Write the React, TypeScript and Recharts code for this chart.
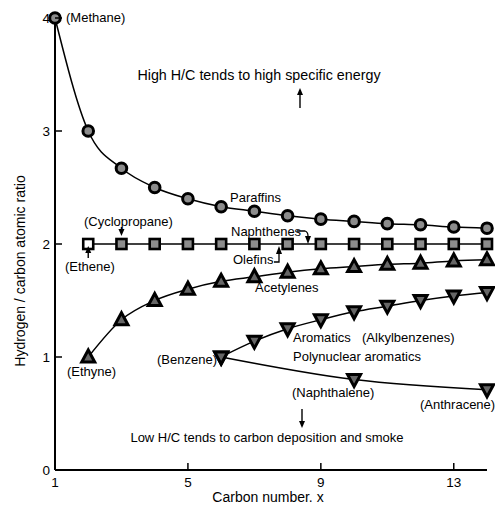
import React from 'react';
import { LineChart, Line, XAxis, YAxis } from 'recharts';

// carbon numbers and H/C ratios
const paraffinX = [1, 2, 3, 4, 5, 6, 7, 8, 9, 10, 11, 12, 13, 14];
const paraffinY = [4, 3, 2.67, 2.5, 2.4, 2.33, 2.29, 2.25, 2.22, 2.2, 2.18, 2.17, 2.15, 2.14];
const olefinX = [2, 3, 4, 5, 6, 7, 8, 9, 10, 11, 12, 13, 14];
const olefinY = [2, 2, 2, 2, 2, 2, 2, 2, 2, 2, 2, 2, 2];
const acetyleneX = [2, 3, 4, 5, 6, 7, 8, 9, 10, 11, 12, 13, 14];
const acetyleneY = [1, 1.33, 1.5, 1.6, 1.67, 1.71, 1.75, 1.78, 1.8, 1.82, 1.83, 1.85, 1.86];
const aromaticX = [6, 7, 8, 9, 10, 11, 12, 13, 14];
const aromaticY = [1, 1.14, 1.25, 1.33, 1.4, 1.45, 1.5, 1.54, 1.57];
const polyX = [6, 10, 14];
const polyY = [1, 0.8, 0.71];

const xTicks = [1, 5, 9, 13];
const yTicks = [0, 1, 2, 3, 4];

const zip = (xs: number[], ys: number[]) => xs.map((x, i) => ({ x, y: ys[i] }));

const W = 495;
const H = 506;
const FONT = '"Liberation Sans", Arial, sans-serif';
const GREY = '#8c8c8c';

const CircleDot = (p: any) => (
  <circle key={`c-${p.index}`} cx={p.cx} cy={p.cy} r={5.3} fill={GREY} stroke="#000" strokeWidth={3} />
);

const SquareDot = (p: any) => (
  <rect
    key={`s-${p.index}`}
    x={p.cx - 5}
    y={p.cy - 5}
    width={10}
    height={10}
    fill={p.index === 0 ? '#fff' : GREY}
    stroke="#000"
    strokeWidth={2.6}
  />
);

const TriUp = (p: any) => {
  const { cx, cy } = p;
  return (
    <polygon
      key={`t-${p.index}`}
      points={`${cx},${cy - 7} ${cx - 6.5},${cy + 5} ${cx + 6.5},${cy + 5}`}
      fill="#666"
      stroke="#000"
      strokeWidth={3}
    />
  );
};

const TriDown = (p: any) => {
  const { cx, cy } = p;
  return (
    <polygon
      key={`d-${p.index}`}
      points={`${cx},${cy + 7} ${cx - 6.5},${cy - 5} ${cx + 6.5},${cy - 5}`}
      fill="#666"
      stroke="#000"
      strokeWidth={3}
    />
  );
};

const XTick = (p: any) => {
  const v = p.payload.value;
  return (
    <g>
      {v !== 1 && <line x1={p.x} x2={p.x} y1={470} y2={463} stroke="#000" strokeWidth={1.5} />}
      <text x={p.x} y={487} textAnchor="middle" fontSize={13.5} fontFamily={FONT} fill="#000">
        {v}
      </text>
    </g>
  );
};

const YTick = (p: any) => {
  const v = p.payload.value;
  return (
    <g>
      {v !== 0 && <line x1={55} x2={62} y1={p.y} y2={p.y} stroke="#000" strokeWidth={1.5} />}
      <text x={50} y={p.y + 5} textAnchor="end" fontSize={13.5} fontFamily={FONT} fill="#000">
        {v}
      </text>
    </g>
  );
};

// plot area: x 1..14 -> 55..487, y 0..4 -> 470..18
const px = (x: number) => 55 + ((x - 1) / 13) * 432;
const py = (y: number) => 18 + ((4 - y) / 4) * 452;

const Arrow = ({ x, y1, y2 }: { x: number; y1: number; y2: number }) => {
  const dir = y2 < y1 ? -1 : 1;
  return (
    <g>
      <line x1={x} x2={x} y1={y1} y2={y2 - dir * 5} stroke="#000" strokeWidth={1.4} />
      <polygon points={`${x},${y2} ${x - 3},${y2 - dir * 7} ${x + 3},${y2 - dir * 7}`} fill="#000" />
    </g>
  );
};

const T = ({ x, y, children, anchor = 'start', size = 13 }: any) => (
  <text x={x} y={y} fontSize={size} fontFamily={FONT} fill="#000" textAnchor={anchor}>
    {children}
  </text>
);

const App = () => {
  return (
    <div style={{ position: 'absolute', left: 0, top: 0, width: W, height: H, background: '#fff' }}>
      <LineChart width={W} height={H} margin={{ top: 18, right: 8, bottom: 0, left: 0 }}>
        <XAxis
          type="number"
          dataKey="x"
          domain={[1, 14]}
          ticks={xTicks}
          height={36}
          tickLine={false}
          axisLine={{ stroke: '#000', strokeWidth: 2 }}
          tick={<XTick />}
          allowDuplicatedCategory={false}
        />
        <YAxis
          type="number"
          dataKey="y"
          domain={[0, 4]}
          ticks={yTicks}
          width={55}
          tickLine={false}
          axisLine={{ stroke: '#000', strokeWidth: 2 }}
          tick={<YTick />}
        />
        <Line data={zip(polyX, polyY)} dataKey="y" type="monotone" stroke="#000" strokeWidth={1.5} dot={TriDown} isAnimationActive={false} />
        <Line data={zip(aromaticX, aromaticY)} dataKey="y" type="monotone" stroke="#000" strokeWidth={1.5} dot={TriDown} isAnimationActive={false} />
        <Line data={zip(acetyleneX, acetyleneY)} dataKey="y" type="monotone" stroke="#000" strokeWidth={1.5} dot={TriUp} isAnimationActive={false} />
        <Line data={zip(olefinX, olefinY)} dataKey="y" type="monotone" stroke="#000" strokeWidth={1.5} dot={SquareDot} isAnimationActive={false} />
        <Line data={zip(paraffinX, paraffinY)} dataKey="y" type="monotone" stroke="#000" strokeWidth={1.5} dot={CircleDot} isAnimationActive={false} />
      </LineChart>
      <svg width={W} height={H} style={{ position: 'absolute', left: 0, top: 0, pointerEvents: 'none' }}>
        <text
          transform="translate(25,271) rotate(-90)"
          textAnchor="middle"
          fontSize={14}
          fontFamily={FONT}
          fill="#000"
        >
          Hydrogen / carbon atomic ratio
        </text>
        <T x={268} y={502} anchor="middle" size={14}>Carbon number. x</T>

        <T x={px(1) + 11} y={py(4) + 4}>(Methane)</T>
        <T x={259} y={80} anchor="middle" size={14.3}>High H/C tends to high specific energy</T>
        <Arrow x={300} y1={108} y2={88} />

        <T x={230} y={202}>Paraffins</T>
        <T x={231} y={236}>Naphthenes</T>
        <path d="M297,231 L305,231 Q308,232 308,236" stroke="#000" strokeWidth={1.3} fill="none" />
        <polygon points="308,244 305,236 311,236" fill="#000" />

        <T x={84} y={226}>(Cyclopropane)</T>
        <Arrow x={px(3)} y1={227} y2={236} />

        <T x={65} y={271}>(Ethene)</T>
        <Arrow x={px(2)} y1={258} y2={246} />

        <T x={233} y={264}>Olefins</T>
        <path d="M274,262 L279,262 L279,253" stroke="#000" strokeWidth={1.3} fill="none" />
        <polygon points="279,246 276,254 282,254" fill="#000" />

        <T x={255} y={292}>Acetylenes</T>
        <T x={67} y={376}>(Ethyne)</T>
        <T x={157} y={364}>(Benzene)</T>
        <T x={293} y={342}>Aromatics</T>
        <T x={362} y={342}>(Alkylbenzenes)</T>
        <T x={293} y={361}>Polynuclear aromatics</T>
        <T x={292} y={397}>(Naphthalene)</T>
        <T x={420} y={409}>(Anthracene)</T>

        <Arrow x={302} y1={409} y2={428} />
        <T x={267} y={442} anchor="middle">Low H/C tends to carbon deposition and smoke</T>
      </svg>
    </div>
  );
};

export default App;
